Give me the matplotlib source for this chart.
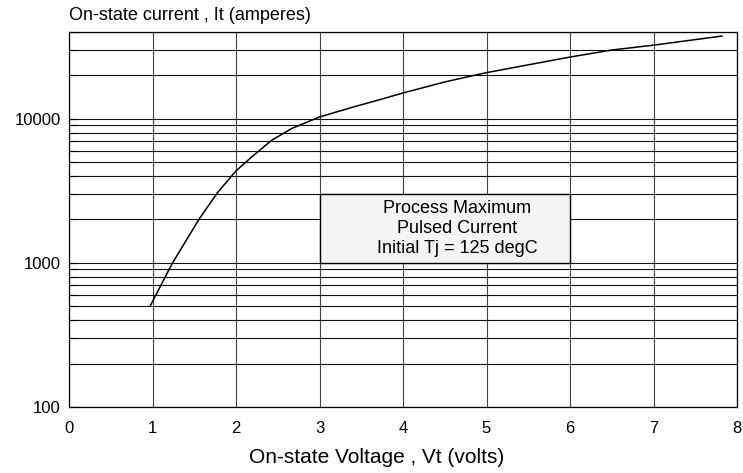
import matplotlib.pyplot as plt
from matplotlib.ticker import FixedLocator, NullFormatter, FixedFormatter

plt.rcParams['font.family'] = ['Liberation Sans', 'DejaVu Sans']

# curve
voltage = [0.97, 1.24, 1.56, 1.78, 2.00, 2.19, 2.43, 2.67, 2.99, 3.39, 3.78,
           4.00, 4.50, 4.85, 5.00, 6.00, 6.50, 7.00, 7.35, 7.82]
current = [500, 1000, 2020, 3080, 4350, 5445, 7110, 8570, 10240, 12000, 13870,
           15100, 18000, 20000, 20900, 26800, 30000, 32400, 34500, 37500]

x_ticks = [0, 1, 2, 3, 4, 5, 6, 7, 8]
y_major = [100, 1000, 10000]
y_minor = [200, 300, 400, 500, 600, 700, 800, 900,
           2000, 3000, 4000, 5000, 6000, 7000, 8000, 9000,
           20000, 30000, 40000]

note_lines = ["Process Maximum", "Pulsed Current", "Initial Tj = 125 degC"]
note_box = (3, 6, 1000, 3000)  # x0, x1, y0, y1

fig = plt.figure(figsize=(7.43, 4.73), dpi=100)
ax = fig.add_axes([69 / 743, 1 - 407 / 473, 668 / 743, 375 / 473])

ax.set_yscale('log')
ax.set_xlim(0, 8)
ax.set_ylim(100, 40000)

ax.xaxis.set_major_locator(FixedLocator(x_ticks))
ax.yaxis.set_major_locator(FixedLocator(y_major))
ax.yaxis.set_major_formatter(FixedFormatter([str(v) for v in y_major]))
ax.yaxis.set_minor_locator(FixedLocator(y_minor))
ax.yaxis.set_minor_formatter(NullFormatter())

ax.grid(True, which='major', axis='x', color='#444444', lw=0.8)
ax.grid(True, which='both', axis='y', color='#111111', lw=0.8)

ax.tick_params(axis='x', which='both', length=0, pad=10, labelsize=12)
ax.tick_params(axis='y', which='both', direction='in', length=6, width=0.8,
               pad=6, labelsize=12)

for s in ax.spines.values():
    s.set_color('black')
    s.set_linewidth(0.9)

ax.plot(voltage, current, color='black', lw=1.1, zorder=3)

x0, x1, y0, y1 = note_box
ax.fill([x0, x1, x1, x0], [y0, y0, y1, y1], facecolor='#f4f4f4',
        edgecolor='black', lw=1.0, zorder=4)
ax.text(4.65, (y0 * y1) ** 0.5, "\n".join(note_lines), ha='center', va='center',
        fontsize=13, linespacing=1.25, zorder=5)

fig.text(69 / 743, 1 - 16 / 473, "On-state current , It (amperes)",
         ha='left', va='center', fontsize=13)
fig.text(376.5 / 743, 1 - 457 / 473, "On-state Voltage , Vt (volts)",
         ha='center', va='center', fontsize=15)

fig.savefig("out.png", dpi=100)
